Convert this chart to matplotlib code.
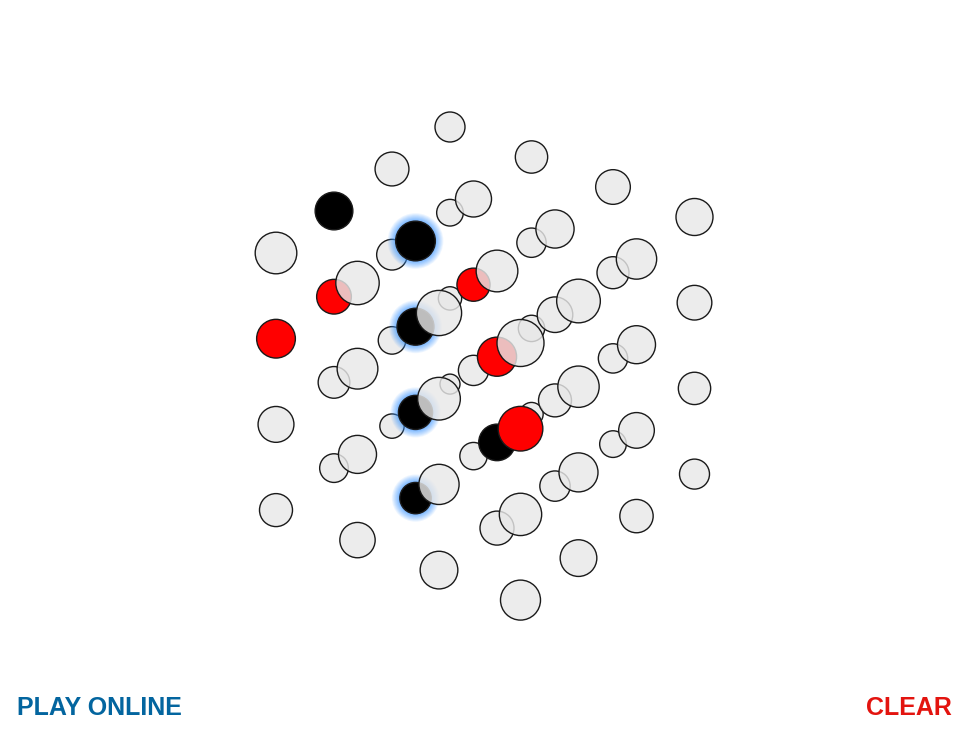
import numpy as np
import matplotlib
matplotlib.use("Agg")
import matplotlib.pyplot as plt
from matplotlib.patches import Circle

# ---- board data (4x4x4 cube, cell = (i, j, k): i toward back, j toward right, k downward layer)
N = 4
black_cells = [(1, 0, 0), (1, 1, 0), (1, 1, 1), (1, 1, 2), (1, 1, 3), (1, 2, 2)]
red_cells = [(0, 0, 1), (1, 0, 1), (2, 1, 1), (1, 2, 1), (0, 3, 1)]
win_cells = [(1, 1, 0), (1, 1, 1), (1, 1, 2), (1, 1, 3)]
button_labels = ["PLAY ONLINE", "CLEAR"]

# ---- projection / layout
ORIGIN = np.array([276.0, 253.0])
E_I = np.array([58.0, -42.0])
E_J = np.array([81.5, 30.0])
E_K = np.array([0.0, 85.7])
# radii at the 8 corners of the cube (pseudo-perspective), indexed [i][j][k] with 0 / 1 meaning 0 / 3
CORNER_R = {(0, 0, 0): 20.8, (1, 0, 0): 15.0, (0, 1, 0): 23.5, (1, 1, 0): 18.5,
            (0, 0, 1): 16.5, (1, 0, 1): 10.0, (0, 1, 1): 20.0, (1, 1, 1): 15.0}

EMPTY_FC = (232 / 255, 232 / 255, 232 / 255, 0.82)
EDGE = "#1a1a1a"


def project(i, j, k):
    return ORIGIN + i * E_I + j * E_J + k * E_K


def radius(i, j, k):
    s, t, u = i / (N - 1), j / (N - 1), k / (N - 1)
    r = 0.0
    for (a, b, c), v in CORNER_R.items():
        w = (s if a else 1 - s) * (t if b else 1 - t) * (u if c else 1 - u)
        r += w * v
    return r


fig = plt.figure(figsize=(9.7, 7.43), dpi=100)
ax = fig.add_axes([0, 0, 1, 1])
ax.set_xlim(0, 970)
ax.set_ylim(743, 0)
ax.axis("off")

cells = [(i, j, k) for i in range(N) for j in range(N) for k in range(N)]
cells.sort(key=lambda c: radius(*c))

black_set, red_set, win_set = set(black_cells), set(red_cells), set(win_cells)

for c in cells:
    x, y = project(*c)
    r = radius(*c)
    if c in win_set:
        steps = 14
        glow = 8.0
        for n in range(steps):
            rr = r + glow * (1 - n / steps) ** 1.6
            ax.add_patch(Circle((x, y), rr, facecolor=(0.25, 0.6, 1.0, 0.085),
                                edgecolor="none"))
    if c in black_set:
        fc = "#000000"
    elif c in red_set:
        fc = "#ff0000"
    else:
        fc = EMPTY_FC
    ax.add_patch(Circle((x, y), r, facecolor=fc, edgecolor=EDGE, linewidth=1.0))

ax.text(17.5, 715, button_labels[0], fontsize=18.0, fontweight="bold",
        family=["Liberation Sans", "DejaVu Sans"], color="#03659f", ha="left", va="baseline")
ax.text(952, 715, button_labels[1], fontsize=18.0, fontweight="bold",
        family=["Liberation Sans", "DejaVu Sans"], color="#e3140f", ha="right", va="baseline")

fig.savefig("out.png", dpi=100, facecolor="white")
